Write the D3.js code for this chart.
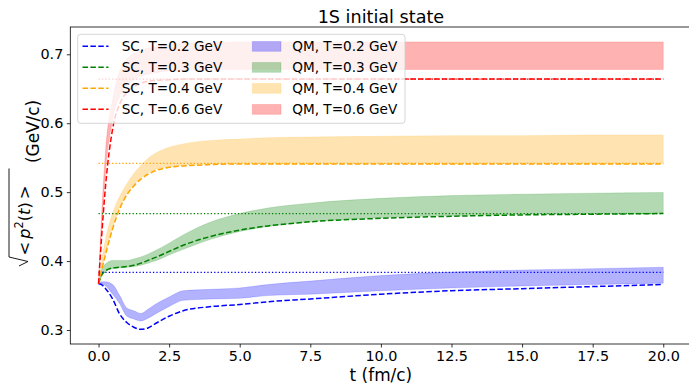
<!DOCTYPE html>
<html>
<head>
<meta charset="utf-8">
<script src="https://cdn.jsdelivr.net/npm/d3@7/dist/d3.min.js"></script>
<style>
  html, body { margin: 0; padding: 0; background: #fff; }
  text { font-family: "DejaVu Sans", sans-serif; fill: #000; }
</style>
</head>
<body>
<svg id="chart" width="689" height="385"></svg>
<script>
// ---------------- data ----------------
const temps = ["0.2", "0.3", "0.4", "0.6"];
const colors = ["blue", "green", "orange", "red"];
const time = [0, 0.1, 0.25, 0.5, 0.75, 1, 1.25, 1.5, 1.75, 2, 2.5, 3, 4, 5, 6, 7.5, 10, 12.5, 15, 17.5, 20];

// semiclassical (SC) curves
const sc02 = [0.367, 0.366, 0.360, 0.345, 0.323, 0.311, 0.304, 0.301, 0.303, 0.309, 0.320, 0.328, 0.334, 0.337, 0.341, 0.345, 0.352, 0.357, 0.360, 0.363, 0.366];
const sc03 = [0.367, 0.379, 0.386, 0.390, 0.391, 0.392, 0.394, 0.397, 0.401, 0.405, 0.414, 0.423, 0.436, 0.445, 0.451, 0.457, 0.462, 0.465, 0.467, 0.468, 0.469];
const sc04 = [0.367, 0.385, 0.410, 0.447, 0.476, 0.496, 0.509, 0.519, 0.526, 0.531, 0.536, 0.538, 0.540, 0.541, 0.541, 0.541, 0.541, 0.541, 0.541, 0.541, 0.541];
const sc06 = [0.367, 0.430, 0.510, 0.592, 0.628, 0.645, 0.653, 0.658, 0.661, 0.662, 0.663, 0.664, 0.664, 0.664, 0.664, 0.664, 0.664, 0.664, 0.664, 0.664, 0.664];

// quantum (QM) bands: lower / upper
const qm02Lo = [0.367, 0.367, 0.364, 0.352, 0.338, 0.320, 0.316, 0.313, 0.317, 0.323, 0.334, 0.343, 0.345, 0.346, 0.350, 0.352, 0.357, 0.361, 0.364, 0.366, 0.368];
const qm02Hi = [0.367, 0.370, 0.370, 0.366, 0.350, 0.332, 0.328, 0.324, 0.330, 0.337, 0.348, 0.357, 0.359, 0.361, 0.366, 0.371, 0.379, 0.384, 0.387, 0.389, 0.391];
const qm03Lo = [0.367, 0.377, 0.385, 0.389, 0.390, 0.391, 0.392, 0.394, 0.397, 0.400, 0.409, 0.417, 0.432, 0.443, 0.450, 0.457, 0.463, 0.466, 0.468, 0.469, 0.4695];
const qm03Hi = [0.367, 0.385, 0.396, 0.401, 0.401, 0.401, 0.403, 0.406, 0.410, 0.415, 0.426, 0.438, 0.457, 0.469, 0.477, 0.484, 0.491, 0.495, 0.497, 0.4985, 0.4995];
const qm04Lo = [0.367, 0.386, 0.412, 0.449, 0.478, 0.498, 0.511, 0.521, 0.528, 0.533, 0.537, 0.539, 0.541, 0.542, 0.542, 0.542, 0.542, 0.542, 0.542, 0.542, 0.542];
const qm04Hi = [0.367, 0.398, 0.432, 0.470, 0.494, 0.512, 0.527, 0.539, 0.549, 0.556, 0.565, 0.570, 0.575, 0.577, 0.579, 0.580, 0.581, 0.582, 0.582, 0.583, 0.583];
const qm06Lo = [0.367, 0.440, 0.530, 0.605, 0.640, 0.655, 0.663, 0.668, 0.671, 0.673, 0.676, 0.677, 0.678, 0.678, 0.678, 0.678, 0.678, 0.678, 0.678, 0.678, 0.678];
const qm06Hi = [0.367, 0.460, 0.560, 0.635, 0.676, 0.693, 0.701, 0.706, 0.709, 0.711, 0.714, 0.716, 0.717, 0.718, 0.718, 0.718, 0.718, 0.718, 0.718, 0.718, 0.718];

// equilibrium (static) values
const equilibrium = [0.3837, 0.4688, 0.5418, 0.664];
const eqRange = [0, 20];

const xTicks = [0, 2.5, 5, 7.5, 10, 12.5, 15, 17.5, 20];
const yTicks = [0.3, 0.4, 0.5, 0.6, 0.7];

const title = "1S initial state";
const xLabel = "t (fm/c)";
const scLabels = temps.map(T => `SC, T=${T} GeV`);
const qmLabels = temps.map(T => `QM, T=${T} GeV`);

const scSeries = [sc02, sc03, sc04, sc06];
const qmLo = [qm02Lo, qm03Lo, qm04Lo, qm06Lo];
const qmHi = [qm02Hi, qm03Hi, qm04Hi, qm06Hi];

// ---------------- drawing ----------------
const svg = d3.select("#chart");
svg.append("rect").attr("width", 689).attr("height", 385).attr("fill", "#fff");

const x = d3.scaleLinear().domain([-1, 21]).range([70.3, 691.5]);
const y = d3.scaleLinear().domain([0.2797, 0.7396]).range([344, 27]);

const plot = svg.append("g");

// QM bands
const area = d3.area()
  .x(d => x(d.t)).y0(d => y(d.lo)).y1(d => y(d.hi))
  .curve(d3.curveMonotoneX);
qmLo.forEach((lo, i) => {
  const pts = time.map((t, k) => ({ t, lo: lo[k], hi: qmHi[i][k] }));
  plot.append("path").datum(pts).attr("d", area)
    .attr("fill", colors[i]).attr("fill-opacity", 0.3)
    .attr("stroke", colors[i]).attr("stroke-opacity", 0.15).attr("stroke-width", 1);
});

// equilibrium dotted lines
equilibrium.forEach((v, i) => {
  plot.append("line")
    .attr("x1", x(eqRange[0])).attr("x2", x(eqRange[1]))
    .attr("y1", y(v)).attr("y2", y(v))
    .attr("stroke", colors[i]).attr("stroke-width", 1.3)
    .attr("stroke-dasharray", "1.3,2.1");
});

// SC dashed curves
const line = d3.line().x(d => x(d.t)).y(d => y(d.v)).curve(d3.curveMonotoneX);
scSeries.forEach((s, i) => {
  const pts = time.map((t, k) => ({ t, v: s[k] }));
  plot.append("path").datum(pts).attr("d", line)
    .attr("fill", "none").attr("stroke", colors[i]).attr("stroke-width", 1.5)
    .attr("stroke-dasharray", "5.5,2.4");
});

// axes
const xAxis = d3.axisBottom(x).tickValues(xTicks).tickFormat(d3.format(".1f")).tickSize(3.5).tickPadding(3.5);
const yAxis = d3.axisLeft(y).tickValues(yTicks).tickFormat(d3.format(".1f")).tickSize(3.5).tickPadding(3.5);

const gx = svg.append("g").attr("transform", "translate(0,344)").call(xAxis);
const gy = svg.append("g").attr("transform", "translate(70.3,0)").call(yAxis);
[gx, gy].forEach(g => {
  g.select(".domain").remove();
  g.selectAll(".tick line").attr("stroke", "#000").attr("stroke-width", 0.8);
  g.selectAll(".tick text").attr("font-size", "14.4px").attr("font-family", "DejaVu Sans").attr("fill", "#000");
});

// spines
svg.append("rect")
  .attr("x", 70.3).attr("y", 27).attr("width", 691.5 - 70.3).attr("height", 344 - 27)
  .attr("fill", "none").attr("stroke", "#000").attr("stroke-width", 0.8);

// title
svg.append("text").attr("x", 380.9).attr("y", 22.7).attr("text-anchor", "middle")
  .attr("font-size", "17.6px").text(title);

// x label
svg.append("text").attr("x", 380.9).attr("y", 381).attr("text-anchor", "middle")
  .attr("font-size", "16.9px").text(xLabel);

// y label (rotated, with radical)
const yl = svg.append("g").attr("transform", "translate(30,185.5) rotate(-90)");
const ylt = yl.append("text").attr("x", -70).attr("y", 0).attr("font-size", "16.3px");
ylt.append("tspan").text("<");
ylt.append("tspan").attr("dx", 3).attr("font-style", "italic").text("p");
ylt.append("tspan").attr("font-size", "11.4px").attr("dy", "-7").text("2");
ylt.append("tspan").attr("dy", "7").text("(");
ylt.append("tspan").attr("font-style", "italic").text("t");
ylt.append("tspan").text(")");
ylt.append("tspan").attr("dx", 3).text(">");
yl.append("path")
  .attr("d", "M-80.5,-11 L-76,-2 L-71.5,-21 L17,-21")
  .attr("fill", "none").attr("stroke", "#000").attr("stroke-width", 0.9);
yl.append("text").attr("x", 22.5).attr("y", 9).attr("font-size", "16.9px").text("(GeV/c)");

// legend
const leg = svg.append("g");
leg.append("rect").attr("x", 77.7).attr("y", 34.3).attr("width", 405 - 77.7).attr("height", 123.3 - 34.3)
  .attr("rx", 3).attr("fill", "#fff").attr("fill-opacity", 0.8)
  .attr("stroke", "#cccccc").attr("stroke-width", 0.8);
const rowY = d3.scaleLinear().domain([0, 3]).range([46.3, 109.3]);
scLabels.forEach((lab, i) => {
  leg.append("line").attr("x1", 82.5).attr("x2", 108.5).attr("y1", rowY(i)).attr("y2", rowY(i))
    .attr("stroke", colors[i]).attr("stroke-width", 1.5).attr("stroke-dasharray", "5.5,2.4");
  leg.append("text").attr("x", 121.7).attr("y", rowY(i) + 5).attr("font-size", "13.6px").text(lab);
});
qmLabels.forEach((lab, i) => {
  leg.append("rect").attr("x", 252.3).attr("y", rowY(i) - 4.8).attr("width", 28.7).attr("height", 9.8)
    .attr("fill", colors[i]).attr("fill-opacity", 0.3)
    .attr("stroke", colors[i]).attr("stroke-opacity", 0.15);
  leg.append("text").attr("x", 292.3).attr("y", rowY(i) + 5).attr("font-size", "13.6px").text(lab);
});
</script>
</body>
</html>
